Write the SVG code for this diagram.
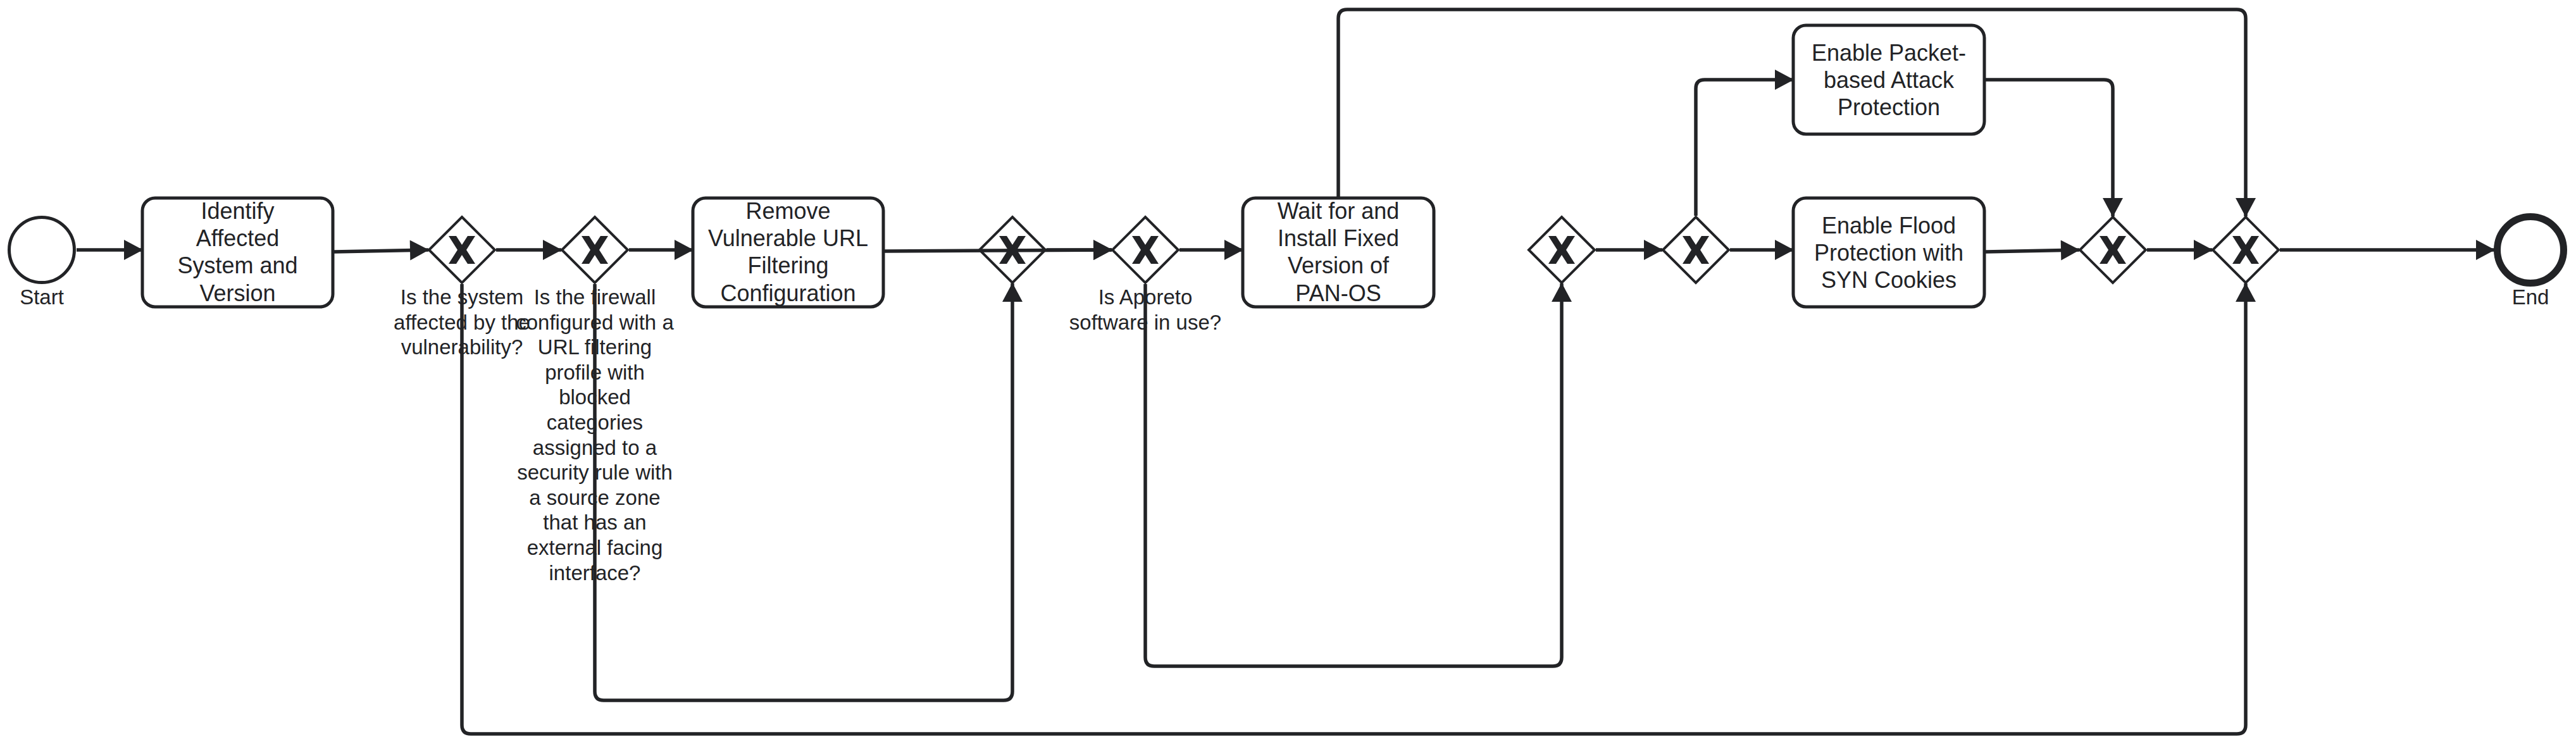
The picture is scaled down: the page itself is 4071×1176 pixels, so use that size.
<svg xmlns="http://www.w3.org/2000/svg" xmlns:xlink="http://www.w3.org/1999/xlink" width="4071" height="1176" viewBox="0 0 4071 1176">
<style>
.bg{fill:#ffffff}
.task{fill:#ffffff;stroke:#222326;stroke-width:5}
.gw{fill:#ffffff;stroke:#222326;stroke-width:4}
.ev{fill:#ffffff;stroke:#222326;stroke-width:5}
.end{fill:#ffffff;stroke:#222326;stroke-width:11}
.xm{fill:#222326}
.edge{fill:none;stroke:#222326;stroke-width:5.5;stroke-linejoin:round;marker-end:url(#arrow)}
.tt{font-family:"Liberation Sans",Arial,sans-serif;font-size:36px;fill:#222326;text-anchor:middle}
.lb{font-family:"Liberation Sans",Arial,sans-serif;font-size:33px;fill:#222326;text-anchor:middle}
</style>
<defs>
<marker id="arrow" markerUnits="userSpaceOnUse" markerWidth="31" markerHeight="32" viewBox="0 0 30 32" refX="29" refY="16" orient="auto">
<path d="M0,0 L30,16 L0,32 z" fill="#222326"/>
</marker>
<polygon id="xmark" points="-21,-22 -9,-22 0,-8 9,-22 21,-22 7,0 21,22 9,22 0,8 -9,22 -21,22 -7,0"/>
</defs>
<rect class="bg" x="0" y="0" width="4071" height="1176"/>

<g id="start">
<circle class="ev" cx="66" cy="395" r="51.5"/>
<text class="lb" x="66" y="481">Start</text>
</g>

<g id="task-identify">
<rect class="task" x="225" y="313" width="301" height="172" rx="20"/>
<text class="tt"><tspan x="375.5" y="346">Identify</tspan><tspan x="375.5" y="389.2">Affected</tspan><tspan x="375.5" y="432.4">System and</tspan><tspan x="375.5" y="475.6">Version</tspan></text>
</g>

<g id="gw-affected">
<polygon class="gw" points="730,343 782,395 730,447 678,395"/>
<use xlink:href="#xmark" class="xm" transform="translate(730,395)"/>
<text class="lb"><tspan x="730" y="481">Is the system</tspan><tspan x="730" y="520.6">affected by the</tspan><tspan x="730" y="560.2">vulnerability?</tspan></text>
</g>

<g id="gw-firewall">
<polygon class="gw" points="940,343 992,395 940,447 888,395"/>
<use xlink:href="#xmark" class="xm" transform="translate(940,395)"/>
<text class="lb"><tspan x="940" y="481">Is the firewall</tspan><tspan x="940" y="520.6">configured with a</tspan><tspan x="940" y="560.2">URL filtering</tspan><tspan x="940" y="599.8">profile with</tspan><tspan x="940" y="639.4">blocked</tspan><tspan x="940" y="679">categories</tspan><tspan x="940" y="718.6">assigned to a</tspan><tspan x="940" y="758.2">security rule with</tspan><tspan x="940" y="797.8">a source zone</tspan><tspan x="940" y="837.4">that has an</tspan><tspan x="940" y="877">external facing</tspan><tspan x="940" y="916.6">interface?</tspan></text>
</g>

<g id="task-remove">
<rect class="task" x="1095" y="313" width="301" height="172" rx="20"/>
<text class="tt"><tspan x="1245.5" y="346">Remove</tspan><tspan x="1245.5" y="389.2">Vulnerable URL</tspan><tspan x="1245.5" y="432.4">Filtering</tspan><tspan x="1245.5" y="475.6">Configuration</tspan></text>
</g>

<g id="gw-merge1">
<polygon class="gw" points="1600,343 1652,395 1600,447 1548,395"/>
<use xlink:href="#xmark" class="xm" transform="translate(1600,395)"/>
</g>

<g id="gw-aporeto">
<polygon class="gw" points="1810,343 1862,395 1810,447 1758,395"/>
<use xlink:href="#xmark" class="xm" transform="translate(1810,395)"/>
<text class="lb"><tspan x="1810" y="481">Is Aporeto</tspan><tspan x="1810" y="520.6">software in use?</tspan></text>
</g>

<g id="task-wait">
<rect class="task" x="1964" y="313" width="302" height="172" rx="20"/>
<text class="tt"><tspan x="2115" y="346">Wait for and</tspan><tspan x="2115" y="389.2">Install Fixed</tspan><tspan x="2115" y="432.4">Version of</tspan><tspan x="2115" y="475.6">PAN-OS</tspan></text>
</g>

<g id="gw-merge2">
<polygon class="gw" points="2468,343 2520,395 2468,447 2416,395"/>
<use xlink:href="#xmark" class="xm" transform="translate(2468,395)"/>
</g>

<g id="gw-split">
<polygon class="gw" points="2680,343 2732,395 2680,447 2628,395"/>
<use xlink:href="#xmark" class="xm" transform="translate(2680,395)"/>
</g>

<g id="task-packet">
<rect class="task" x="2834" y="40" width="302" height="172" rx="20"/>
<text class="tt"><tspan x="2985" y="95.7">Enable Packet-</tspan><tspan x="2985" y="138.9">based Attack</tspan><tspan x="2985" y="182.1">Protection</tspan></text>
</g>

<g id="task-flood">
<rect class="task" x="2834" y="313" width="302" height="172" rx="20"/>
<text class="tt"><tspan x="2985" y="368.7">Enable Flood</tspan><tspan x="2985" y="411.9">Protection with</tspan><tspan x="2985" y="455.1">SYN Cookies</tspan></text>
</g>

<g id="gw-join">
<polygon class="gw" points="3339,343 3391,395 3339,447 3287,395"/>
<use xlink:href="#xmark" class="xm" transform="translate(3339,395)"/>
</g>

<g id="gw-final">
<polygon class="gw" points="3549,343 3601,395 3549,447 3497,395"/>
<use xlink:href="#xmark" class="xm" transform="translate(3549,395)"/>
</g>

<g id="end">
<circle class="end" cx="3999" cy="395" r="52.5"/>
<text class="lb" x="3999" y="481">End</text>
</g>

<g id="connectors">
<path class="edge" d="M121,395 L225,395"/>
<path class="edge" d="M528,398 L677,395"/>
<path class="edge" d="M784,395 L887,395"/>
<path class="edge" d="M994,395 L1095,395"/>
<path class="edge" d="M1398,397 L1757,395"/>
<path class="edge" d="M1654,395 L1757,395"/>
<path class="edge" d="M1864,395 L1964,395"/>
<path class="edge" d="M2115,311 L2115,29 Q2115,15 2129,15 L3535,15 Q3549,15 3549,29 L3549,342"/>
<path class="edge" d="M730,449 L730,1146 Q730,1160 744,1160 L3535,1160 Q3549,1160 3549,1146 L3549,448"/>
<path class="edge" d="M940,449 L940,1093 Q940,1107 954,1107 L1586,1107 Q1600,1107 1600,1093 L1600,448"/>
<path class="edge" d="M1810,449 L1810,1039 Q1810,1053 1824,1053 L2454,1053 Q2468,1053 2468,1039 L2468,448"/>
<path class="edge" d="M2522,395 L2627,395"/>
<path class="edge" d="M2734,395 L2834,395"/>
<path class="edge" d="M2680,341 L2680,140 Q2680,126 2694,126 L2834,126"/>
<path class="edge" d="M3138,126 L3325,126 Q3339,126 3339,140 L3339,342"/>
<path class="edge" d="M3138,398 L3286,395"/>
<path class="edge" d="M3393,395 L3496,395"/>
<path class="edge" d="M3603,395 L3942,395"/>
</g>
</svg>
